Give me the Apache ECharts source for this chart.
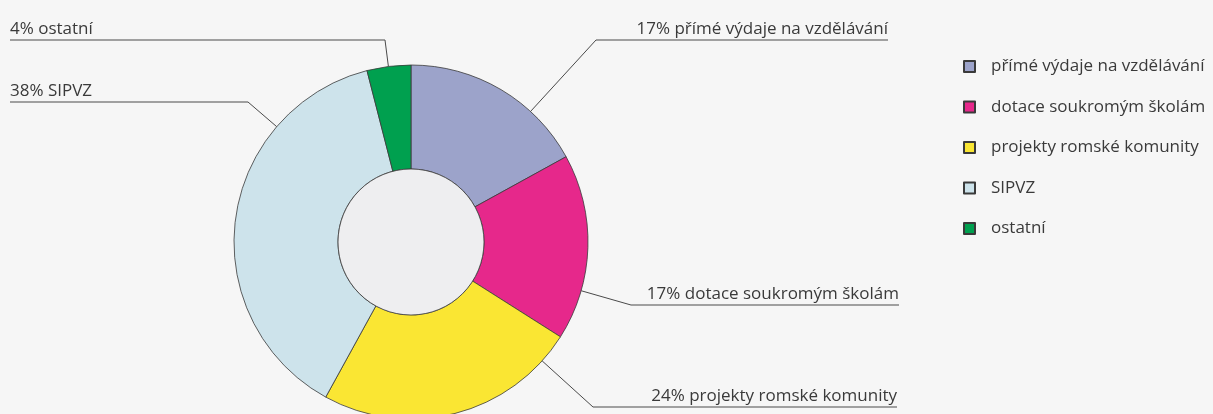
<!DOCTYPE html>
<html>
<head>
<meta charset="utf-8">
<script src="https://cdn.jsdelivr.net/npm/echarts@6/dist/echarts.min.js"></script>
<style>
    html, body { margin: 0; padding: 0; background: #f6f6f6; }
    #main { width: 1213px; height: 414px; }
</style>
</head>
<body>
<div id="main"></div>
<script>
const categories = ['přímé výdaje na vzdělávání', 'dotace soukromým školám', 'projekty romské komunity', 'SIPVZ', 'ostatní']
const shares = [17, 17, 24, 38, 4]
const colors = ['#9ca3ca', '#e6288b', '#fae633', '#cde3eb', '#00a04f']

// geometrie kolace
const cx = 411, cy = 242, rIn = 73, rOut = 177
// popisky: [x zlomu, y čáry, konec čáry]
const labelSpots = [[596, 40, 888], [631, 305, 899], [593, 407, 897], [248, 102, 10], [385, 40, 10]]

let chart = echarts.init(document.getElementById('main'))
let option = {
    backgroundColor: '#f6f6f6',
    animation: false,
    textStyle: { fontFamily: 'Open Sans' },
    legend: {
        data: categories,
        orient: 'vertical',
        left: 963,
        top: 58,
        padding: 0,
        icon: 'rect',
        itemWidth: 11,
        itemHeight: 11,
        itemGap: 23.5,
        textStyle: { fontSize: 17, color: '#3a3a3a', fontFamily: 'Open Sans', padding: [0, 0, 0, 11] }
    },
    series: [
        {
            type: 'pie',
            left: 0,
            top: 0,
            width: 1213,
            height: 414,
            center: [cx, cy],
            radius: [rIn, rOut],
            startAngle: 90,
            clockwise: true,
            avoidLabelOverlap: false,
            silent: true,
            itemStyle: { borderColor: '#3a3a3a', borderWidth: 0.8 },
            label: {
                show: true,
                formatter: p => p.value + '% ' + p.name,
                color: '#3a3a3a',
                fontSize: 17,
                fontFamily: 'Open Sans'
            },
            labelLine: { show: true, length: 20, length2: 20, lineStyle: { color: '#4a4a4a', width: 1 } },
            labelLayout: function (p) {
                const s = labelSpots[p.dataIndex]
                const bx = s[0], ly = s[1], ex = s[2]
                const dx = bx - cx, dy = ly - cy, d = Math.hypot(dx, dy)
                const ax = cx + rOut * dx / d, ay = cy + rOut * dy / d
                return {
                    x: ex,
                    y: ly - 2,
                    align: ex > bx ? 'right' : 'left',
                    verticalAlign: 'bottom',
                    labelLinePoints: [[ax, ay], [bx, ly], [ex, ly]]
                }
            },
            data: categories.map((n, i) => ({ name: n, value: shares[i], itemStyle: { color: colors[i] } }))
        },
        {
            // vnitřní kruh
            type: 'pie',
            left: 0,
            top: 0,
            width: 1213,
            height: 414,
            center: [cx, cy],
            radius: [0, rIn],
            silent: true,
            label: { show: false },
            labelLine: { show: false },
            itemStyle: { color: '#eeeef0', borderColor: '#3a3a3a', borderWidth: 0.8 },
            data: [{ name: 'střed', value: 1 }]
        }
    ]
}
chart.setOption(option)
</script>
</body>
</html>
